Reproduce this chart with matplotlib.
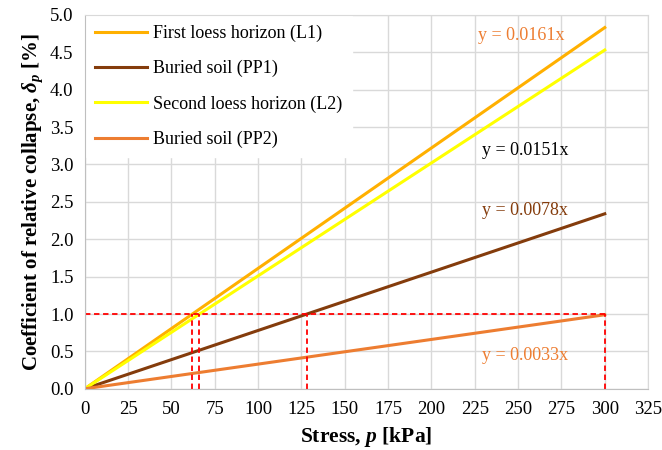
import numpy as np
import matplotlib.pyplot as plt

plt.rcParams['font.family'] = 'Liberation Serif'
plt.rcParams['mathtext.fontset'] = 'custom'
plt.rcParams['mathtext.it'] = 'Liberation Serif:italic:bold'
plt.rcParams['mathtext.rm'] = 'Liberation Serif:bold'

# data
series_names = ["First loess horizon (L1)", "Buried soil (PP1)",
                "Second loess horizon (L2)", "Buried soil (PP2)"]
slopes = [0.0161, 0.0078, 0.0151, 0.0033]
colors = ['#FFB000', '#843C0C', '#FFFF00', '#ED7D31']
stress = [0, 300]
eq_labels = ["y = 0.0161x", "y = 0.0078x", "y = 0.0151x", "y = 0.0033x"]
eq_colors = ['#ED7D31', '#843C0C', '#000000', '#ED7D31']
eq_pos = [(227, 4.73), (229, 2.39), (229, 3.19), (229, 0.45)]
threshold = 1.0
collapse_start = [62, 66, 128, 300]

fig, ax = plt.subplots(figsize=(6.62, 4.5), dpi=100)
fig.subplots_adjust(left=0.128, right=0.979, top=0.967, bottom=0.136)

x = np.array(stress, dtype=float)
for name, k, c in zip(series_names, slopes, colors):
    ax.plot(x, k * x, color=c, lw=2.2, label=name, zorder=3)

# threshold lines
ax.plot([0, 300], [threshold, threshold], color='red', ls=(0, (3, 2)), lw=1.3, zorder=4)
for p in collapse_start:
    ax.plot([p, p], [0, threshold], color='red', ls=(0, (3, 2)), lw=1.3, zorder=4)

for txt, c, (px, py) in zip(eq_labels, eq_colors, eq_pos):
    ax.text(px, py, txt, color=c, fontsize=13, va='center')

ax.set_xlim(0, 325)
ax.set_ylim(0, 5)
ax.set_xticks(np.arange(0, 326, 25))
ax.set_yticks(np.arange(0, 5.01, 0.5))
ax.set_yticklabels([f"{v:.1f}" for v in np.arange(0, 5.01, 0.5)])
ax.tick_params(length=0, labelsize=13.5)
ax.tick_params(axis='x', pad=9)
ax.tick_params(axis='y', pad=8)
ax.grid(True, color='#D9D9D9', lw=1)
ax.set_axisbelow(True)
for s in ax.spines.values():
    s.set_color('#D9D9D9')
    s.set_zorder(6)
ax.spines['left'].set_color('#BFBFBF')
ax.spines['bottom'].set_color('#BFBFBF')

ax.set_xlabel(r'Stress, $p$ [kPa]', fontsize=15.5, fontweight='bold', labelpad=5)
ax.set_ylabel(r'Coefficient of relative collapse, $\delta_p$ [%]', fontsize=15,
              fontweight='bold', labelpad=4)

leg = ax.legend(loc='upper left', fontsize=13, frameon=True, framealpha=1,
                edgecolor='white', fancybox=False, handlelength=2.9,
                handletextpad=0.35, labelspacing=1.0, borderaxespad=0.05,
                borderpad=0.5)
leg.set_zorder(5)

fig.savefig('out.png', dpi=100)
